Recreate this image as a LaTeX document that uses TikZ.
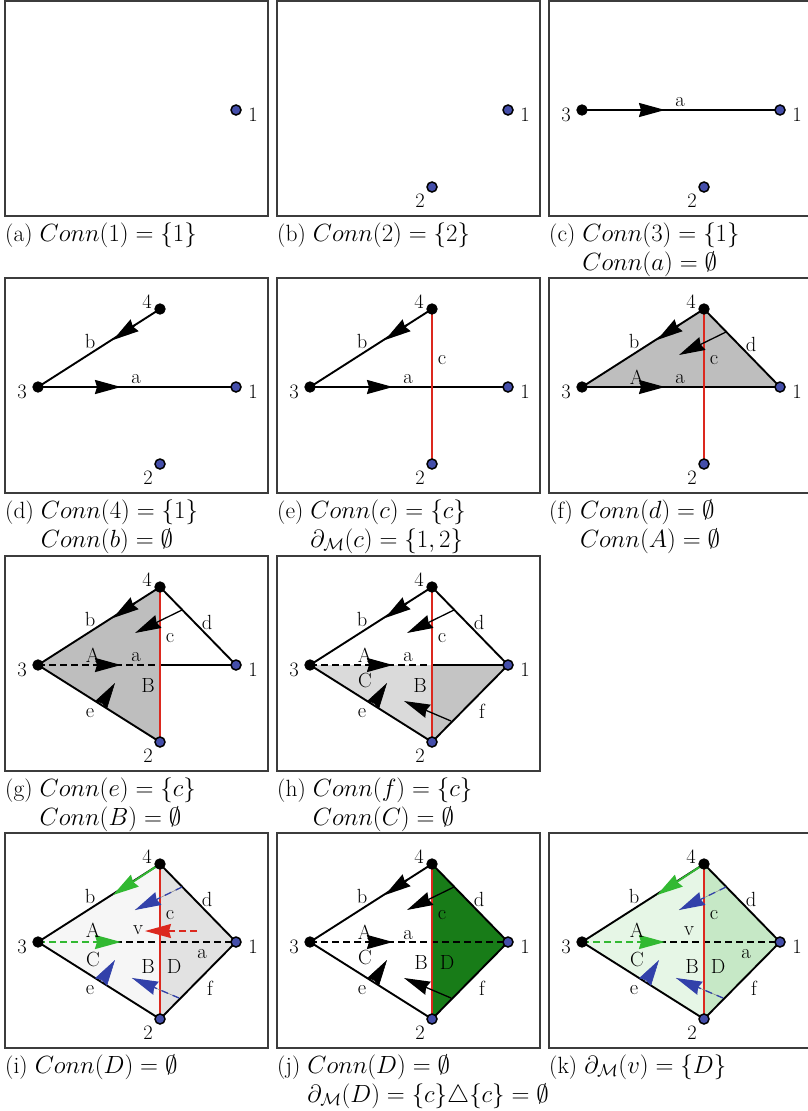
\documentclass[tikz,border=0pt]{standalone}
\usetikzlibrary{arrows.meta}
\definecolor{dotblue}{RGB}{68,78,170}
\definecolor{cred}{RGB}{220,40,30}
\definecolor{agreen}{RGB}{50,185,50}
\definecolor{ablue}{RGB}{50,65,170}
\definecolor{boxgray}{RGB}{60,60,60}
\definecolor{fillF}{RGB}{190,190,190}
\definecolor{fillHl}{RGB}{218,218,218}
\definecolor{fillHr}{RGB}{196,196,196}
\definecolor{fillIl}{RGB}{246,246,246}
\definecolor{fillIr}{RGB}{226,226,226}
\definecolor{fillJ}{RGB}{24,124,24}
\definecolor{fillKl}{RGB}{230,246,230}
\definecolor{fillKr}{RGB}{198,232,198}
\newcommand\defpts[1]{%
 \coordinate (v1#1) at (231,109);
 \coordinate (v2#1) at (155,186);
 \coordinate (v3#1) at (33,109);
 \coordinate (v4#1) at (155,31);
 \coordinate (xm#1) at (155,109);
 \coordinate (aB#1) at (90,109);
 \coordinate (aT#1) at (116,109);
 \coordinate (bB#1) at (130,47);
 \coordinate (bT#1) at (108,62);
 \coordinate (dS#1) at (177,54);
 \coordinate (dT#1) at (130,77);
 \coordinate (fS#1) at (174,165);
 \coordinate (fT#1) at (127,145);
 \coordinate (eB#1) at (96,149);
 \coordinate (eT#1) at (110,127);
 \coordinate (vS#1) at (192,98);
 \coordinate (vT#1) at (140,98);
}
\newcommand\lone[1]{\node[udot] (n1#1) at (v1#1) {}; \node[vlbl] (l1#1) at ([shift={(17,5)}]v1#1) {1};}
\newcommand\ltwo[1]{\node[udot] (n2#1) at (v2#1) {}; \node[vlbl] (l2#1) at ([shift={(-12,14)}]v2#1) {2};}
\newcommand\lthree[1]{\node[bdot] (n3#1) at (v3#1) {}; \node[vlbl] (l3#1) at ([shift={(-16,5)}]v3#1) {3};}
\newcommand\lfour[1]{\node[bdot] (n4#1) at (v4#1) {}; \node[vlbl] (l4#1) at ([shift={(-13,-7)}]v4#1) {4};}
\newcommand\pbox[1]{\draw[panelbox] (0,0) rectangle (263,215);}
\begin{document}
\begin{tikzpicture}[x=1pt,y=-1pt,
 panelbox/.style={draw=boxgray, line width=1.3pt},
 bdot/.style={circle, fill=black, draw=black, line width=0.8pt, inner sep=0pt, minimum size=10.5pt},
 udot/.style={circle, fill=dotblue, draw=black, line width=1.5pt, inner sep=0pt, minimum size=10pt},
 edg/.style={line width=1.9pt, draw=black},
 cedg/.style={line width=1.9pt, draw=cred},
 dedg/.style={edg, dash pattern=on 7pt off 4pt},
 hd/.style={-{Stealth[length=26pt,width=14pt,inset=2pt]}},
 thinarr/.style={line width=1.3pt, hd},
 vlbl/.style={font=\fontsize{20.5}{20.5}\selectfont, inner sep=0pt},
 captxt/.style={font=\fontsize{23.5}{25}\selectfont, anchor=base west, inner sep=0pt}]
\useasboundingbox (0,0) rectangle (807,1111);
% ---------------- (a)
\begin{scope}[shift={(5,1)}]
\defpts{a}
\pbox{a}
\lone{a}
\end{scope}
\node[captxt] (capa) at (5,241) {(a) $Conn(1)=\{1\}$};
% ---------------- (b)
\begin{scope}[shift={(277,1)}]
\defpts{b}
\pbox{b}
\lone{b}\ltwo{b}
\end{scope}
\node[captxt] (capb) at (277,241) {(b) $Conn(2)=\{2\}$};
% ---------------- (c)
\begin{scope}[shift={(549,1)}]
\defpts{c}
\pbox{c}
\draw[edg] (v3c) -- (v1c);
\draw[edg,hd] (aBc) -- (aTc);
\node[vlbl] (lac) at (131,101) {a};
\lone{c}\ltwo{c}\lthree{c}
\end{scope}
\node[captxt] (capc) at (549,241) {(c) $Conn(3)=\{1\}$};
\node[captxt] (capc2) at (549,270) {\phantom{(c) }$Conn(a)=\emptyset$};
% ---------------- (d)
\begin{scope}[shift={(5,278)}]
\defpts{d}
\pbox{d}
\draw[edg] (v3d) -- (v1d);
\draw[edg] (v4d) -- (v3d);
\draw[edg,hd] (aBd) -- (aTd);
\draw[edg,hd] (bBd) -- (bTd);
\node[vlbl] (lad) at (131,101) {a};
\node[vlbl] (lbd) at (85,63) {b};
\lone{d}\ltwo{d}\lthree{d}\lfour{d}
\end{scope}
\node[captxt] (capd) at (5,518) {(d) $Conn(4)=\{1\}$};
\node[captxt] (capd2) at (5,547) {\phantom{(d) }$Conn(b)=\emptyset$};
% ---------------- (e)
\begin{scope}[shift={(277,278)}]
\defpts{e}
\pbox{e}
\draw[edg] (v3e) -- (v1e);
\draw[edg] (v4e) -- (v3e);
\draw[cedg] (v4e) -- (v2e);
\draw[edg,hd] (aBe) -- (aTe);
\draw[edg,hd] (bBe) -- (bTe);
\node[vlbl] (lae) at (131,101) {a};
\node[vlbl] (lbe) at (85,63) {b};
\node[vlbl] (lce) at (165,82) {c};
\lone{e}\ltwo{e}\lthree{e}\lfour{e}
\end{scope}
\node[captxt] (cape) at (277,518) {(e) $Conn(c)=\{c\}$};
\node[captxt] (cape2) at (277,547) {\phantom{(e) }$\partial_{\mathcal{M}}(c)=\{1,2\}$};
% ---------------- (f)
\begin{scope}[shift={(549,278)}]
\defpts{f}
\pbox{f}
\fill[fillF] (v3f) -- (v4f) -- (v1f) -- cycle;
\draw[edg] (v3f) -- (v1f);
\draw[edg] (v4f) -- (v3f);
\draw[edg] (v4f) -- (v1f);
\draw[cedg] (v4f) -- (v2f);
\draw[edg,hd] (aBf) -- (aTf);
\draw[edg,hd] (bBf) -- (bTf);
\draw[thinarr] (dSf) -- (dTf);
\node[vlbl] (lAf) at (88,99) {A};
\node[vlbl] (laf) at (131,101) {a};
\node[vlbl] (lbf) at (85,63) {b};
\node[vlbl] (lcf) at (165,82) {c};
\node[vlbl] (ldf) at (202,66) {d};
\lone{f}\ltwo{f}\lthree{f}\lfour{f}
\end{scope}
\node[captxt] (capf) at (549,518) {(f) $Conn(d)=\emptyset$};
\node[captxt] (capf2) at (549,547) {\phantom{(f) }$Conn(A)=\emptyset$};
% ---------------- (g)
\begin{scope}[shift={(5,556)}]
\defpts{g}
\pbox{g}
\fill[fillF] (v3g) -- (v4g) -- (v2g) -- cycle;
\draw[dedg] (v3g) -- (xmg);
\draw[edg] (xmg) -- (v1g);
\draw[edg] (v4g) -- (v3g);
\draw[edg] (v4g) -- (v1g);
\draw[edg] (v3g) -- (v2g);
\draw[cedg] (v4g) -- (v2g);
\draw[edg,hd] (aBg) -- (aTg);
\draw[edg,hd] (bBg) -- (bTg);
\draw[thinarr] (dSg) -- (dTg);
\draw[line width=0.6pt,hd] (eBg) -- (eTg);
\node[vlbl] (lAg) at (88,99) {A};
\node[vlbl] (lag) at (131,101) {a};
\node[vlbl] (lbg) at (85,63) {b};
\node[vlbl] (lcg) at (165,82) {c};
\node[vlbl] (ldg) at (202,66) {d};
\node[vlbl] (leg) at (85,157) {e};
\node[vlbl] (lBg) at (143,129) {B};
\lone{g}\ltwo{g}\lthree{g}\lfour{g}
\end{scope}
\node[captxt] (capg) at (5,796) {(g) $Conn(e)=\{c\}$};
\node[captxt] (capg2) at (5,825) {\phantom{(g) }$Conn(B)=\emptyset$};
% ---------------- (h)
\begin{scope}[shift={(277,556)}]
\defpts{h}
\pbox{h}
\fill[fillHl] (v3h) -- (v1h) -- (v2h) -- cycle;
\fill[fillHr] (xmh) -- (v1h) -- (v2h) -- cycle;
\draw[dedg] (v3h) -- (xmh);
\draw[edg] (xmh) -- (v1h);
\draw[edg] (v4h) -- (v3h);
\draw[edg] (v4h) -- (v1h);
\draw[edg] (v3h) -- (v2h);
\draw[edg] (v2h) -- (v1h);
\draw[cedg] (v4h) -- (v2h);
\draw[edg,hd] (aBh) -- (aTh);
\draw[edg,hd] (bBh) -- (bTh);
\draw[thinarr] (dSh) -- (dTh);
\draw[thinarr] (fSh) -- (fTh);
\draw[line width=0.6pt,hd] (eBh) -- (eTh);
\node[vlbl] (lAh) at (88,99) {A};
\node[vlbl] (lah) at (131,101) {a};
\node[vlbl] (lbh) at (85,63) {b};
\node[vlbl] (lch) at (165,82) {c};
\node[vlbl] (ldh) at (202,66) {d};
\node[vlbl] (leh) at (85,157) {e};
\node[vlbl] (lfh) at (205,155) {f};
\node[vlbl] (lBh) at (143,129) {B};
\node[vlbl] (lCh) at (88,124) {C};
\lone{h}\ltwo{h}\lthree{h}\lfour{h}
\end{scope}
\node[captxt] (caph) at (277,796) {(h) $Conn(f)=\{c\}$};
\node[captxt] (caph2) at (277,825) {\phantom{(h) }$Conn(C)=\emptyset$};
% ---------------- (i)
\begin{scope}[shift={(5,833)}]
\defpts{i}
\pbox{i}
\fill[fillIl] (v3i) -- (v4i) -- (v1i) -- (v2i) -- cycle;
\fill[fillIr] (v4i) -- (v1i) -- (v2i) -- cycle;
\draw[dedg] (v3i) -- (v1i);
\draw[edg] (v4i) -- (v3i);
\draw[edg] (v4i) -- (v1i);
\draw[edg] (v3i) -- (v2i);
\draw[edg] (v2i) -- (v1i);
\draw[cedg] (v4i) -- (v2i);
\draw[dedg, draw=agreen] (v3i) -- (aBi);
\draw[edg, draw=agreen, hd] (aBi) -- (aTi);
\draw[edg, draw=agreen, hd] (v4i) -- (bTi);
\draw[line width=0.5pt, draw=gray] (dSi) -- (dTi);
\draw[line width=1.3pt, draw=ablue, dash pattern=on 7pt off 5pt, hd] (dSi) -- (dTi);
\draw[line width=0.5pt, draw=gray] (fSi) -- (fTi);
\draw[line width=1.3pt, draw=ablue, dash pattern=on 7pt off 5pt, hd] (fSi) -- (fTi);
\draw[line width=0.6pt, draw=ablue, hd] (eBi) -- (eTi);
\draw[line width=1.5pt, draw=cred, dash pattern=on 7pt off 4pt, hd] (vSi) -- (vTi);
\node[vlbl] (lAi) at (88,97) {A};
\node[vlbl] (lvi) at (133,97) {v};
\node[vlbl] (lai) at (197,121) {a};
\node[vlbl] (lbi) at (85,63) {b};
\node[vlbl] (lci) at (165,82) {c};
\node[vlbl] (ldi) at (202,66) {d};
\node[vlbl] (lei) at (85,157) {e};
\node[vlbl] (lfi) at (205,155) {f};
\node[vlbl] (lBi) at (143,133) {B};
\node[vlbl] (lCi) at (88,126) {C};
\node[vlbl] (lDi) at (169,133) {D};
\lone{i}\ltwo{i}\lthree{i}\lfour{i}
\end{scope}
\node[captxt] (capi) at (5,1073) {(i) $Conn(D)=\emptyset$};
% ---------------- (j)
\begin{scope}[shift={(277,833)}]
\defpts{j}
\pbox{j}
\fill[fillJ] (v4j) -- (v1j) -- (v2j) -- cycle;
\draw[dedg] (v3j) -- (v1j);
\draw[edg] (v4j) -- (v3j);
\draw[edg] (v4j) -- (v1j);
\draw[edg] (v3j) -- (v2j);
\draw[edg] (v2j) -- (v1j);
\draw[cedg] (v4j) -- (v2j);
\draw[edg,hd] (aBj) -- (aTj);
\draw[edg,hd] (bBj) -- (bTj);
\draw[thinarr] (dSj) -- (dTj);
\draw[thinarr] (fSj) -- (fTj);
\draw[line width=0.6pt,hd] (eBj) -- (eTj);
\node[vlbl] (lAj) at (88,99) {A};
\node[vlbl] (laj) at (131,102) {a};
\node[vlbl] (lbj) at (85,63) {b};
\node[vlbl] (lcj) at (165,82) {c};
\node[vlbl] (ldj) at (202,66) {d};
\node[vlbl] (lej) at (85,157) {e};
\node[vlbl] (lfj) at (205,155) {f};
\node[vlbl] (lBj) at (144,129) {B};
\node[vlbl] (lCj) at (88,124) {C};
\node[vlbl] (lDj) at (170,129) {D};
\lone{j}\ltwo{j}\lthree{j}\lfour{j}
\end{scope}
\node[captxt] (capj) at (277,1073) {(j) $Conn(D)=\emptyset$};
\node[captxt] (capj2) at (277,1102) {\phantom{(j) }$\partial_{\mathcal{M}}(D)=\{c\}\triangle\{c\}=\emptyset$};
% ---------------- (k)
\begin{scope}[shift={(549,833)}]
\defpts{k}
\pbox{k}
\fill[fillKl] (v3k) -- (v4k) -- (v1k) -- (v2k) -- cycle;
\fill[fillKr] (v4k) -- (v1k) -- (v2k) -- cycle;
\draw[dedg] (v3k) -- (v1k);
\draw[edg] (v4k) -- (v3k);
\draw[edg] (v4k) -- (v1k);
\draw[edg] (v3k) -- (v2k);
\draw[edg] (v2k) -- (v1k);
\draw[cedg] (v4k) -- (v2k);
\draw[dedg, draw=agreen] (v3k) -- (aBk);
\draw[edg, draw=agreen, hd] (aBk) -- (aTk);
\draw[edg, draw=agreen, hd] (v4k) -- (bTk);
\draw[line width=0.5pt, draw=gray] (dSk) -- (dTk);
\draw[line width=1.3pt, draw=ablue, dash pattern=on 7pt off 5pt, hd] (dSk) -- (dTk);
\draw[line width=0.5pt, draw=gray] (fSk) -- (fTk);
\draw[line width=1.3pt, draw=ablue, dash pattern=on 7pt off 5pt, hd] (fSk) -- (fTk);
\draw[line width=0.6pt, draw=ablue, hd] (eBk) -- (eTk);
\node[vlbl] (lAk) at (88,97) {A};
\node[vlbl] (lvk) at (140,98) {v};
\node[vlbl] (lak) at (197,121) {a};
\node[vlbl] (lbk) at (85,63) {b};
\node[vlbl] (lck) at (165,82) {c};
\node[vlbl] (ldk) at (202,66) {d};
\node[vlbl] (lek) at (85,157) {e};
\node[vlbl] (lfk) at (205,155) {f};
\node[vlbl] (lBk) at (143,133) {B};
\node[vlbl] (lCk) at (88,126) {C};
\node[vlbl] (lDk) at (169,133) {D};
\lone{k}\ltwo{k}\lthree{k}\lfour{k}
\end{scope}
\node[captxt] (capk) at (549,1073) {(k) $\partial_{\mathcal{M}}(v)=\{D\}$};
\end{tikzpicture}
\end{document}
